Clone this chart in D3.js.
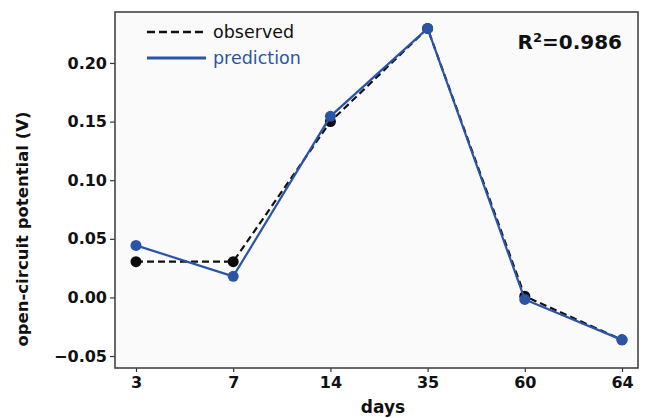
<!DOCTYPE html>
<html>
<head>
<meta charset="utf-8">
<script src="https://cdn.jsdelivr.net/npm/d3@7"></script>
<style>
  html, body { margin: 0; padding: 0; background: #ffffff; }
  svg { display: block; }
</style>
</head>
<body>
<svg id="chart" width="647" height="418"></svg>
<script>
const days = ["3", "7", "14", "35", "60", "64"];
const observed = [0.0305, 0.0305, 0.150, 0.2295, 0.001, -0.0362];
const prediction = [0.0444, 0.018, 0.1545, 0.2295, -0.0017, -0.0362];
const yTicks = [-0.05, 0.00, 0.05, 0.10, 0.15, 0.20];
const r2Label = "0.986";

const W = 647, H = 418;
const margin = { left: 115, right: 9, top: 12, bottom: 50 };
const plotW = W - margin.left - margin.right;
const plotH = H - margin.top - margin.bottom;

const svg = d3.select("#chart");
const g = svg.append("g").attr("transform", `translate(${margin.left},${margin.top})`);

const x = d3.scalePoint().domain(days).range([21, plotW - 16]);
const y = d3.scaleLinear().domain([-0.0602, 0.2435]).range([plotH, 0]);

g.append("rect").attr("width", plotW).attr("height", plotH).attr("fill", "#fafafa");

const font = "'DejaVu Sans', Verdana, sans-serif";
const blue = "#2a55a6";

// axes
const yAxis = g.append("g")
  .call(d3.axisLeft(y).tickValues(yTicks).tickFormat(d3.format(".2f")).tickSize(5).tickPadding(3));
const xAxis = g.append("g").attr("transform", `translate(0,${plotH})`)
  .call(d3.axisBottom(x).tickSize(4).tickPadding(5));
[yAxis, xAxis].forEach(a => {
  a.select(".domain").remove();
  a.selectAll("line").attr("stroke", "#333").attr("stroke-width", 1.2);
  a.selectAll("text").attr("font-family", font).attr("font-weight", "bold")
    .attr("font-size", 16).attr("fill", "#111");
});

// frame
g.append("rect").attr("width", plotW).attr("height", plotH)
  .attr("fill", "none").attr("stroke", "#444").attr("stroke-width", 1.6);

const line = d3.line().x((d, i) => x(days[i])).y(d => y(d));

// observed
g.append("path").datum(observed).attr("d", line)
  .attr("fill", "none").attr("stroke", "#111").attr("stroke-width", 2.2)
  .attr("stroke-dasharray", "7,4");
g.selectAll(".obs").data(observed).enter().append("circle")
  .attr("cx", (d, i) => x(days[i])).attr("cy", d => y(d)).attr("r", 5.5).attr("fill", "#0a0a0a");

// prediction
g.append("path").datum(prediction).attr("d", line)
  .attr("fill", "none").attr("stroke", blue).attr("stroke-width", 2.2);
g.selectAll(".pred").data(prediction).enter().append("circle")
  .attr("cx", (d, i) => x(days[i])).attr("cy", d => y(d)).attr("r", 5.5).attr("fill", blue);

// legend
const leg = svg.append("g");
leg.append("line").attr("x1", 147).attr("x2", 206).attr("y1", 32).attr("y2", 32)
  .attr("stroke", "#111").attr("stroke-width", 2.4).attr("stroke-dasharray", "8,4");
leg.append("text").attr("x", 213).attr("y", 38).text("observed")
  .attr("font-family", font).attr("font-size", 17.5).attr("fill", "#111");
leg.append("line").attr("x1", 147).attr("x2", 206).attr("y1", 58).attr("y2", 58)
  .attr("stroke", blue).attr("stroke-width", 3);
leg.append("text").attr("x", 213).attr("y", 64).text("prediction")
  .attr("font-family", font).attr("font-size", 17.5).attr("fill", blue);

// R2
const r2 = svg.append("text").attr("x", 622).attr("y", 49).attr("text-anchor", "end")
  .attr("font-family", font).attr("font-weight", "bold").attr("font-size", 20).attr("fill", "#111");
r2.append("tspan").text("R");
r2.append("tspan").text("2").attr("font-size", 13).attr("dy", -7);
r2.append("tspan").text("=" + r2Label).attr("dy", 7);

// axis titles
svg.append("text").attr("transform", "translate(28,229) rotate(-90)")
  .attr("text-anchor", "middle").text("open-circuit potential (V)")
  .attr("font-family", font).attr("font-weight", "bold").attr("font-size", 16.5).attr("fill", "#111");
svg.append("text").attr("x", 383).attr("y", 413).attr("text-anchor", "middle").text("days")
  .attr("font-family", font).attr("font-weight", "bold").attr("font-size", 17).attr("fill", "#111");
</script>
</body>
</html>
